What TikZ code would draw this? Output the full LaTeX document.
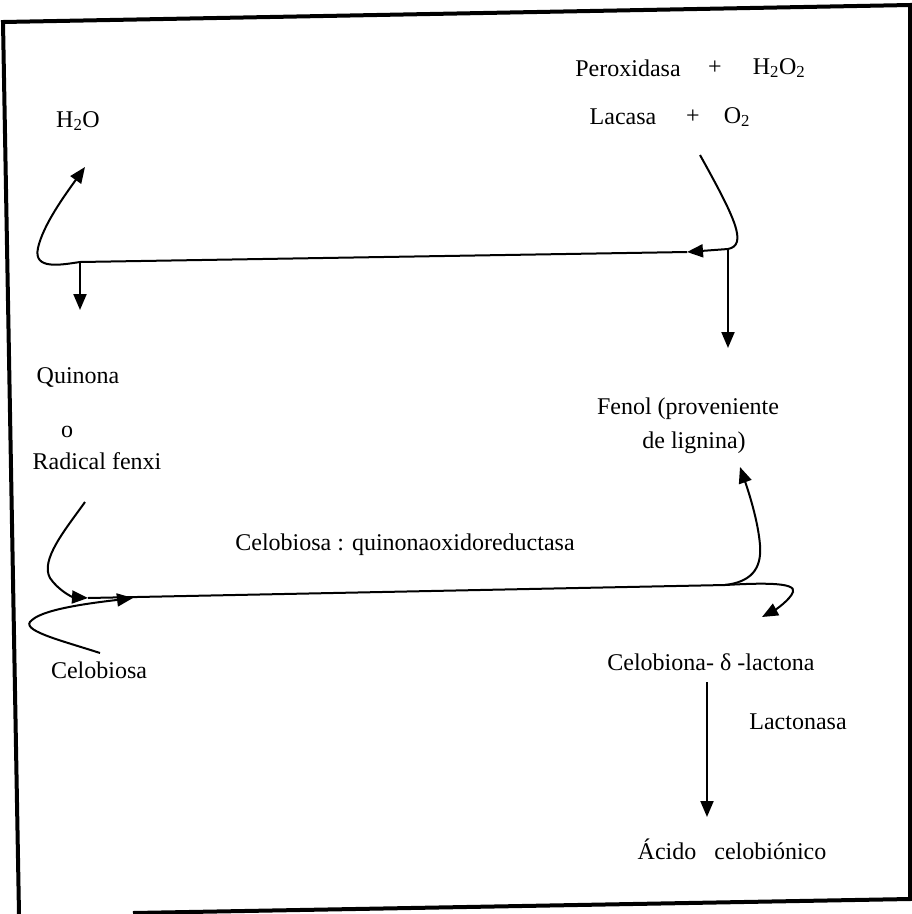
\documentclass[tikz,border=0pt]{standalone}
\usepackage{fontspec}
\setmainfont{Liberation Serif}
\usetikzlibrary{arrows.meta}
\begin{document}
\begin{tikzpicture}[x=1pt,y=-1pt,
  lbl/.style={inner sep=0pt, font=\fontsize{24}{28}\selectfont},
  con/.style={line width=2pt},
  tip/.style={-{Triangle[length=16pt,width=13pt]}},
  framestyle/.style={line width=4pt, line join=miter}]
\fill[white] (0,0) rectangle (912,914);
\useasboundingbox (0,0) rectangle (912,914);
% frame
\draw[framestyle] (19,914) -- (3,22) -- (910,5) -- (910,899) -- (133,913);
% labels
\node[lbl] (perox) at (628,68) {Peroxidasa};
\node[lbl] (plus1) at (715,68) {+};
\node[lbl] (hoo) at (779,68) {H\textsubscript{2}O\textsubscript{2}};
\node[lbl] (lacasa) at (623,117) {Lacasa};
\node[lbl] (plus2) at (693,117) {+};
\node[lbl] (oo) at (737,117) {O\textsubscript{2}};
\node[lbl] (water) at (78,121) {H\textsubscript{2}O};
\node[lbl] (quin) at (78,377) {Quinona};
\node[lbl] (oconj) at (67,432) {o};
\node[lbl] (radical) at (97,461) {Radical fenxi};
\node[lbl] (fenol) at (688,409) {Fenol (proveniente};
\node[lbl] (lignina) at (694,443) {de lignina)};
\node[lbl] (enzyme) at (405,545) {Celobiosa : quinonaoxidoreductasa};
\node[lbl] (celobiosa) at (99,670) {Celobiosa};
\node[lbl] (lactona) at (711,662) {Celobiona- δ -lactona};
\node[lbl] (lactonasa) at (798,722) {Lactonasa};
\node[lbl] (acido) at (732,849) {Ácido\hspace{0.5em} celobiónico};
% coordinates
\coordinate (pstart) at (700,155);
\coordinate (jr) at (728,249);
\coordinate (midarrow) at (687,252);
\coordinate (jl) at (80,262);
\coordinate (watertip) at (85,167);
\coordinate (quintip) at (80,310);
\coordinate (fenoltip) at (728,348);
\coordinate (rstart) at (85,502);
\coordinate (rtip) at (88,598);
\coordinate (cstart) at (100,653);
\coordinate (ctip) at (133,598);
\coordinate (lineend) at (725,585);
\coordinate (ftip) at (740,467);
\coordinate (ltip) at (762,617);
\coordinate (lacstart) at (707,682);
\coordinate (lactip) at (707,817);
% top reaction
\draw[con] (pstart) .. controls (735,218) and (748,245) .. (jr);
\draw[con,tip] (jr) -- (midarrow);
\draw[con] (midarrow) -- (jl);
\draw[con,tip] (jl) .. controls (60,265) and (33,270) .. (38,248) .. controls (43,225) and (65,195) .. (watertip);
\draw[con,tip] (jl) -- (quintip);
\draw[con,tip] (jr) -- (fenoltip);
% bottom reaction
\draw[con,tip] (rstart) .. controls (65,530) and (40,560) .. (50,578) .. controls (58,590) and (72,597) .. (rtip);
\draw[con,tip] (cstart) .. controls (60,640) and (18,630) .. (32,620) .. controls (45,608) and (100,602) .. (ctip);
\draw[con] (rtip) -- (lineend);
\draw[con,tip] (lineend) .. controls (750,582) and (762,570) .. (760,545) .. controls (758,520) and (748,490) .. (ftip);
\draw[con,tip] (lineend) .. controls (760,583) and (797,582) .. (793,592) .. controls (790,600) and (775,610) .. (ltip);
\draw[con,tip] (lacstart) -- (lactip);
\end{tikzpicture}
\end{document}
